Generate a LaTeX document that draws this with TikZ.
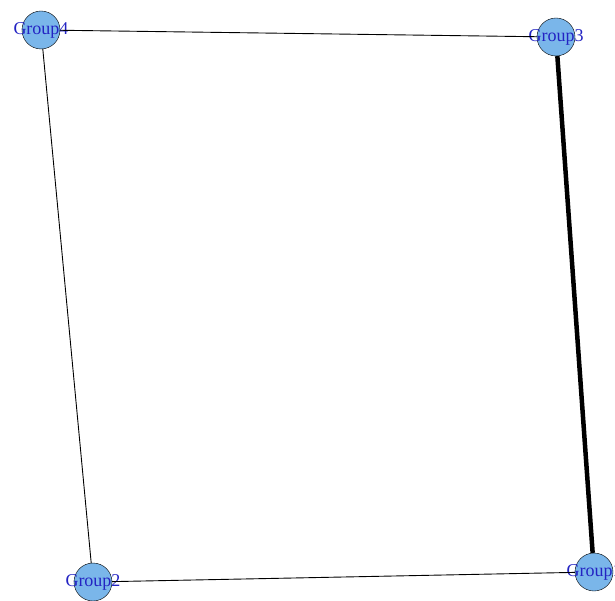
\documentclass[tikz,border=0pt]{standalone}
\usepackage{fontspec}
\setmainfont{Liberation Serif}
\usepackage{tikz}
\definecolor{groupfill}{RGB}{122,182,234}
\definecolor{grouptext}{RGB}{35,35,195}
\tikzset{
  groupnode/.style={
    circle,
    draw=black,
    fill=groupfill,
    minimum size=38pt,
    inner sep=0pt
  },
  grouplabel/.style={
    text=grouptext,
    font=\fontsize{18}{18}\selectfont,
    inner sep=0pt
  },
  thinlink/.style={draw=black, line width=0.9pt},
  thicklink/.style={draw=black, line width=4.5pt}
}

\begin{document}
\begin{tikzpicture}[x=1pt,y=-1pt]
  \useasboundingbox (0,0) rectangle (615,601);
  \fill[white] (0,0) rectangle (615,601);
  % vertices
  \node[groupnode, label={[grouplabel]center:Group4}] (g4) at (41,30) {};
  \node[groupnode, label={[grouplabel]center:Group3}] (g3) at (556,37) {};
  \node[groupnode, label={[grouplabel]center:Group2}] (g2) at (93,582) {};
  \node[groupnode, label={[grouplabel]center:Group1}] (g1) at (594,572) {};
  % edges
  \draw[thinlink] (g4) -- (g3);
  \draw[thinlink] (g4) -- (g2);
  \draw[thinlink] (g2) -- (g1);
  \draw[thicklink] (g3) -- (g1);
\end{tikzpicture}
\end{document}
